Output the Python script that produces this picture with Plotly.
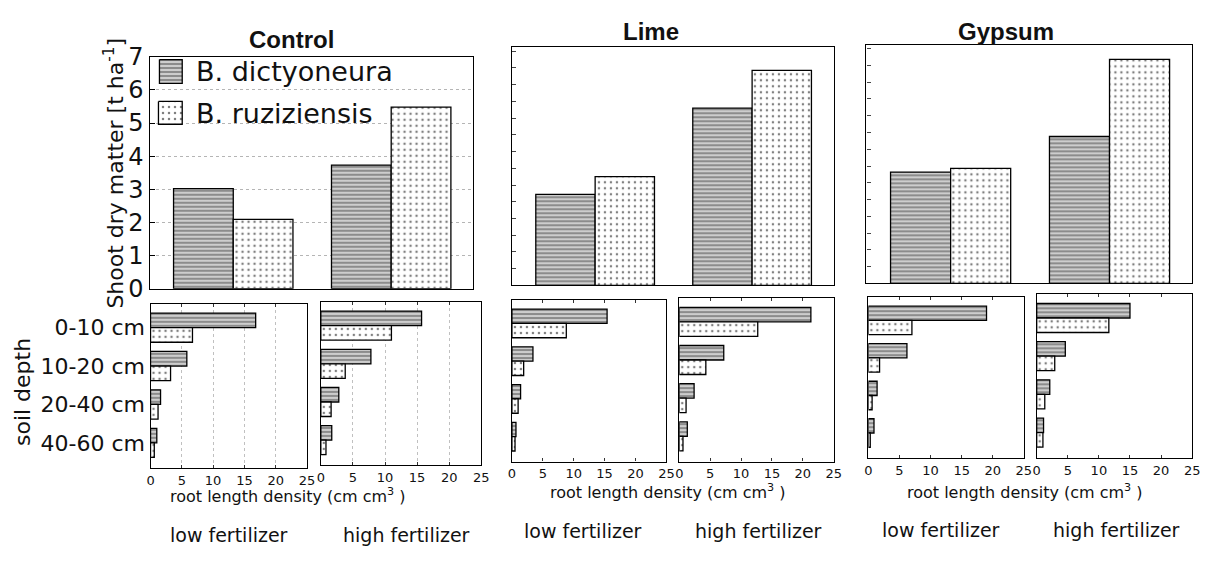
import plotly.graph_objects as go

W, H = 1216, 563

# ---------------- data ----------------
fertilizer = ["low fertilizer", "high fertilizer"]
depths = ["0-10 cm", "10-20 cm", "20-40 cm", "40-60 cm"]
species = ["B. dictyoneura", "B. ruziziensis"]
treatments = ["Control", "Lime", "Gypsum"]

# shoot dry matter [t/ha]  (low, high fertilizer)
shoot_dicty_control = [3.02, 3.73]
shoot_ruzi_control = [2.09, 5.48]
shoot_dicty_lime = [2.72, 5.30]
shoot_ruzi_lime = [3.25, 6.43]
shoot_dicty_gypsum = [3.32, 4.38]
shoot_ruzi_gypsum = [3.43, 6.68]

# root length density (0-10, 10-20, 20-40, 40-60 cm)
root_dicty_control_low = [16.8, 5.8, 1.6, 1.0]
root_ruzi_control_low = [6.7, 3.2, 1.2, 0.6]
root_dicty_control_high = [15.7, 7.8, 2.8, 1.7]
root_ruzi_control_high = [11.0, 3.8, 1.6, 0.8]
root_dicty_lime_low = [15.4, 3.4, 1.4, 0.65]
root_ruzi_lime_low = [8.8, 1.9, 1.0, 0.5]
root_dicty_lime_high = [21.3, 7.2, 2.4, 1.3]
root_ruzi_lime_high = [12.7, 4.3, 1.1, 0.6]
root_dicty_gypsum_low = [19.0, 6.2, 1.4, 0.9]
root_ruzi_gypsum_low = [7.0, 1.8, 0.6, 0.3]
root_dicty_gypsum_high = [15.0, 4.6, 2.1, 1.1]
root_ruzi_gypsum_high = [11.6, 2.9, 1.3, 1.0]

rootx_ticks = [0, 5, 10, 15, 20, 25]

# ---------------- styling ----------------
FONT = "DejaVu Sans"
INK = "#111111"
PAT_D = dict(shape="-", size=4, solidity=0.72, fgcolor="#1a1a1a", bgcolor="#ffffff")
PAT_R = dict(shape=".", size=6, solidity=0.14, fgcolor="#000000", bgcolor="#ffffff")
OUT = dict(color="black", width=1.3)


def px(x):
    return x / W


def py(y):
    return 1 - y / H


def dom_x(a, b):
    return [px(a), px(b)]


def dom_y(top, bottom):
    return [py(bottom), py(top)]


fig = go.Figure()
layout = {}

# ---------------- top panels: shoot dry matter ----------------
top_specs = [
    (shoot_dicty_control, shoot_ruzi_control, (147, 474), (45, 289), [0, 7.0]),
    (shoot_dicty_lime, shoot_ruzi_lime, (513, 838), (35, 285.6), [0, 7.12]),
    (shoot_dicty_gypsum, shoot_ruzi_gypsum, (871, 1200), (33, 283.4), [0, 7.1]),
]
BW_TOP = 0.378
for i, (dv, rv, xr, yr, yrange) in enumerate(top_specs):
    n = i + 1
    xa = "x" if n == 1 else f"x{n}"
    ya = "y" if n == 1 else f"y{n}"
    fig.add_trace(go.Bar(x=fertilizer, y=dv, name=species[0], xaxis=xa, yaxis=ya,
                         width=BW_TOP, offset=-BW_TOP,
                         marker=dict(color="white", pattern=PAT_D, line=OUT), showlegend=False))
    fig.add_trace(go.Bar(x=fertilizer, y=rv, name=species[1], xaxis=xa, yaxis=ya,
                         width=BW_TOP, offset=0,
                         marker=dict(color="white", pattern=PAT_R, line=OUT), showlegend=False))
    xkey = "xaxis" if n == 1 else f"xaxis{n}"
    ykey = "yaxis" if n == 1 else f"yaxis{n}"
    layout[xkey] = dict(domain=dom_x(*xr), anchor=ya, range=[-0.53, 1.52],
                        showticklabels=False, ticks="", showgrid=False,
                        showline=True, linecolor="black", linewidth=1.3, mirror=True,
                        zeroline=False, fixedrange=True)
    if n == 1:
        layout[ykey] = dict(domain=dom_y(*yr), anchor=xa, range=yrange,
                            tickvals=[0, 1, 2, 3, 4, 5, 6, 7], ticks="inside", ticklen=5,
                            tickcolor="black",
                            tickfont=dict(family=FONT, size=24, color=INK),
                            showgrid=True, gridcolor="#b5b5b5", griddash="dot", gridwidth=1,
                            showline=True, linecolor="black", linewidth=1.3, mirror=True,
                            zeroline=False, fixedrange=True)
    else:
        layout[ykey] = dict(domain=dom_y(*yr), anchor=xa, range=yrange,
                            dtick=0.5, tick0=0, ticks="inside", ticklen=4, tickcolor="#444",
                            showticklabels=False, showgrid=False,
                            showline=True, linecolor="black", linewidth=1.3, mirror=True,
                            zeroline=False, fixedrange=True)

# ---------------- bottom panels: root length density ----------------
bot_specs = [
    (root_dicty_control_low, root_ruzi_control_low, (148, 306), (305, 478), True, True),
    (root_dicty_control_high, root_ruzi_control_high, (320, 482), (303, 475), False, True),
    (root_dicty_lime_low, root_ruzi_lime_low, (513, 669), (301, 471), False, False),
    (root_dicty_lime_high, root_ruzi_lime_high, (682, 838), (299, 471), False, False),
    (root_dicty_gypsum_low, root_ruzi_gypsum_low, (873, 1030), (298, 467), False, False),
    (root_dicty_gypsum_high, root_ruzi_gypsum_high, (1043, 1200), (295, 467), False, False),
]
BW_BOT = 0.38
for j, (dv, rv, xr, yr, ylabels, grid) in enumerate(bot_specs):
    n = j + 4
    xa, ya = f"x{n}", f"y{n}"
    fig.add_trace(go.Bar(y=depths, x=dv, orientation="h", name=species[0], xaxis=xa, yaxis=ya,
                         width=BW_BOT, offset=-BW_BOT,
                         marker=dict(color="white", pattern=PAT_D, line=OUT), showlegend=False))
    fig.add_trace(go.Bar(y=depths, x=rv, orientation="h", name=species[1], xaxis=xa, yaxis=ya,
                         width=BW_BOT, offset=0,
                         marker=dict(color="white", pattern=PAT_R, line=OUT), showlegend=False))
    layout[f"xaxis{n}"] = dict(domain=dom_x(*xr), anchor=ya, range=[0, 25],
                               tickvals=rootx_ticks, ticks="inside", ticklen=3,
                               tickcolor="#333", mirror="allticks",
                               tickfont=dict(family=FONT, size=13, color=INK),
                               showgrid=grid, gridcolor="#c0c0c0", griddash="dot", gridwidth=1,
                               showline=True, linecolor="black", linewidth=1.3,
                               zeroline=False, fixedrange=True)
    layout[f"yaxis{n}"] = dict(domain=dom_y(*yr), anchor=xa, type="category",
                               categoryarray=depths, range=[3.66, -0.62],
                               showticklabels=ylabels, ticks="",
                               tickfont=dict(family=FONT, size=22, color=INK),
                               showgrid=False, showline=True, linecolor="black",
                               linewidth=1.3, mirror=True, zeroline=False, fixedrange=True)

# ---------------- legend (drawn inside the Control panel) ----------------
layout["xaxis10"] = dict(domain=[0, 1], range=[0, W], visible=False, anchor="y10",
                         fixedrange=True)
layout["yaxis10"] = dict(domain=[0, 1], range=[H, 0], visible=False, anchor="x10",
                         fixedrange=True)
legend_boxes = [(157, 180, 48, 73), (156, 180, 92, 116)]
for (x0, x1, y0, y1), pat in zip(legend_boxes, [PAT_D, PAT_R]):
    fig.add_trace(go.Scatter(x=[x0, x1, x1, x0, x0], y=[y0, y0, y1, y1, y0],
                             xaxis="x10", yaxis="y10", mode="lines", fill="toself",
                             fillcolor="white", fillpattern=pat,
                             line=dict(color="black", width=1.3),
                             hoverinfo="skip", showlegend=False))

# ---------------- text ----------------
ann = []


def text(t, x, y, size, bold=False, angle=0, family=FONT, xanchor="center"):
    ann.append(dict(text=(f"<b>{t}</b>" if bold else t), x=px(x), y=py(y),
                    xref="paper", yref="paper", showarrow=False, textangle=angle,
                    xanchor=xanchor, yanchor="middle",
                    font=dict(family=family, size=size, color=INK)))


text(treatments[0], 290, 27, 24, bold=True, family="Liberation Sans")
text(treatments[1], 653, 18, 24, bold=True, family="Liberation Sans")
text(treatments[2], 1012, 18, 24, bold=True, family="Liberation Sans")
text(species[0], 192, 61, 27, xanchor="left")
text(species[1], 192, 105, 27, xanchor="left")
text("Shoot dry matter [t ha<sup>-1</sup>]", 111, 167, 22, angle=-90)
text("soil depth", 18, 398, 22, angle=-90)
for cx, cy in [(287, 507), (671, 503), (1031, 502)]:
    text("root length density (cm cm<sup>3</sup> )", cx, cy, 16)
for cx, cy in [(227, 548), (585, 544), (946, 543)]:
    text(fertilizer[0], cx, cy, 19)
for cx, cy in [(407, 548), (762, 544), (1124, 543)]:
    text(fertilizer[1], cx, cy, 19)

fig.update_layout(
    width=W, height=H,
    margin=dict(l=0, r=0, t=0, b=0),
    paper_bgcolor="white", plot_bgcolor="rgba(0,0,0,0)",
    barmode="overlay",
    showlegend=False,
    annotations=ann,
    font=dict(family=FONT, color=INK),
    **layout,
)

fig.write_html("out.html")
